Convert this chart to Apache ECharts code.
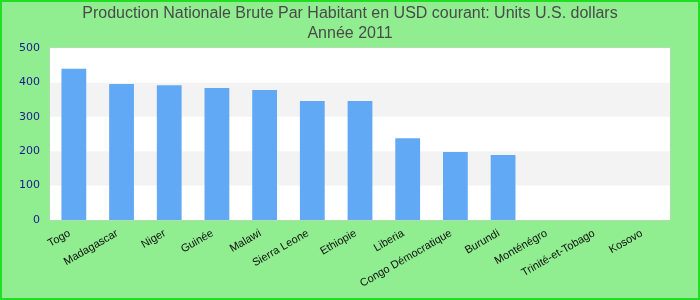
<!DOCTYPE html>
<html>
<head>
<meta charset="utf-8">
<script src="https://cdn.jsdelivr.net/npm/echarts@6/dist/echarts.min.js"></script>
<style>
  html, body { margin: 0; padding: 0; }
  #frame {
    width: 700px; height: 300px; box-sizing: border-box;
    border: 2px solid #22dd22; background: #90ee90;
  }
  #main { width: 696px; height: 296px; }
</style>
</head>
<body>
<div id="frame"><div id="main"></div></div>
<script>
var categories = ['Togo', 'Madagascar', 'Niger', 'Guinée', 'Malawi', 'Sierra Leone', 'Ethiopie',
  'Liberia', 'Congo Démocratique', 'Burundi', 'Monténégro', 'Trinité-et-Tobago', 'Kosovo'];
var values = [440, 395, 392, 384, 378, 346, 346, 238, 198, 189, null, null, null];
var yTicks = [0, 100, 200, 300, 400, 500];

var chart = echarts.init(document.getElementById('main'), null, { renderer: 'canvas' });

var option = {
  backgroundColor: '#90ee90',
  animation: false,
  title: {
    text: 'Production Nationale Brute Par Habitant en USD courant: Units U.S. dollars\nAnnée 2011',
    left: 'center',
    top: -3,
    textStyle: {
      fontFamily: 'Liberation Sans',
      fontSize: 16,
      fontWeight: 'normal',
      color: '#4a4a4a',
      lineHeight: 20
    }
  },
  grid: {
    left: 48, right: 28, top: 46, bottom: 78,
    show: true,
    backgroundColor: '#ffffff',
    borderColor: '#cccccc',
    borderWidth: 1
  },
  xAxis: {
    type: 'category',
    data: categories,
    axisLine: { show: false },
    axisTick: { show: false },
    axisLabel: {
      interval: 0,
      rotate: 30,
      fontFamily: 'Liberation Sans',
      fontSize: 11,
      color: '#111',
      margin: 10,
      padding: [0, 5, 0, 0]
    }
  },
  yAxis: {
    type: 'value',
    min: yTicks[0],
    max: yTicks[yTicks.length - 1],
    interval: 100,
    axisLine: { show: false },
    axisTick: { show: false },
    splitLine: { show: false },
    splitArea: { show: true, areaStyle: { color: ['#ffffff', '#f3f3f3'] } },
    axisLabel: {
      fontFamily: 'DejaVu Sans',
      fontSize: 11,
      color: '#1a1a8c',
      margin: 10
    }
  },
  series: [{
    type: 'bar',
    data: values,
    barWidth: '52%',
    itemStyle: { color: '#62a9f5' }
  }]
};

chart.setOption(option);
</script>
</body>
</html>
